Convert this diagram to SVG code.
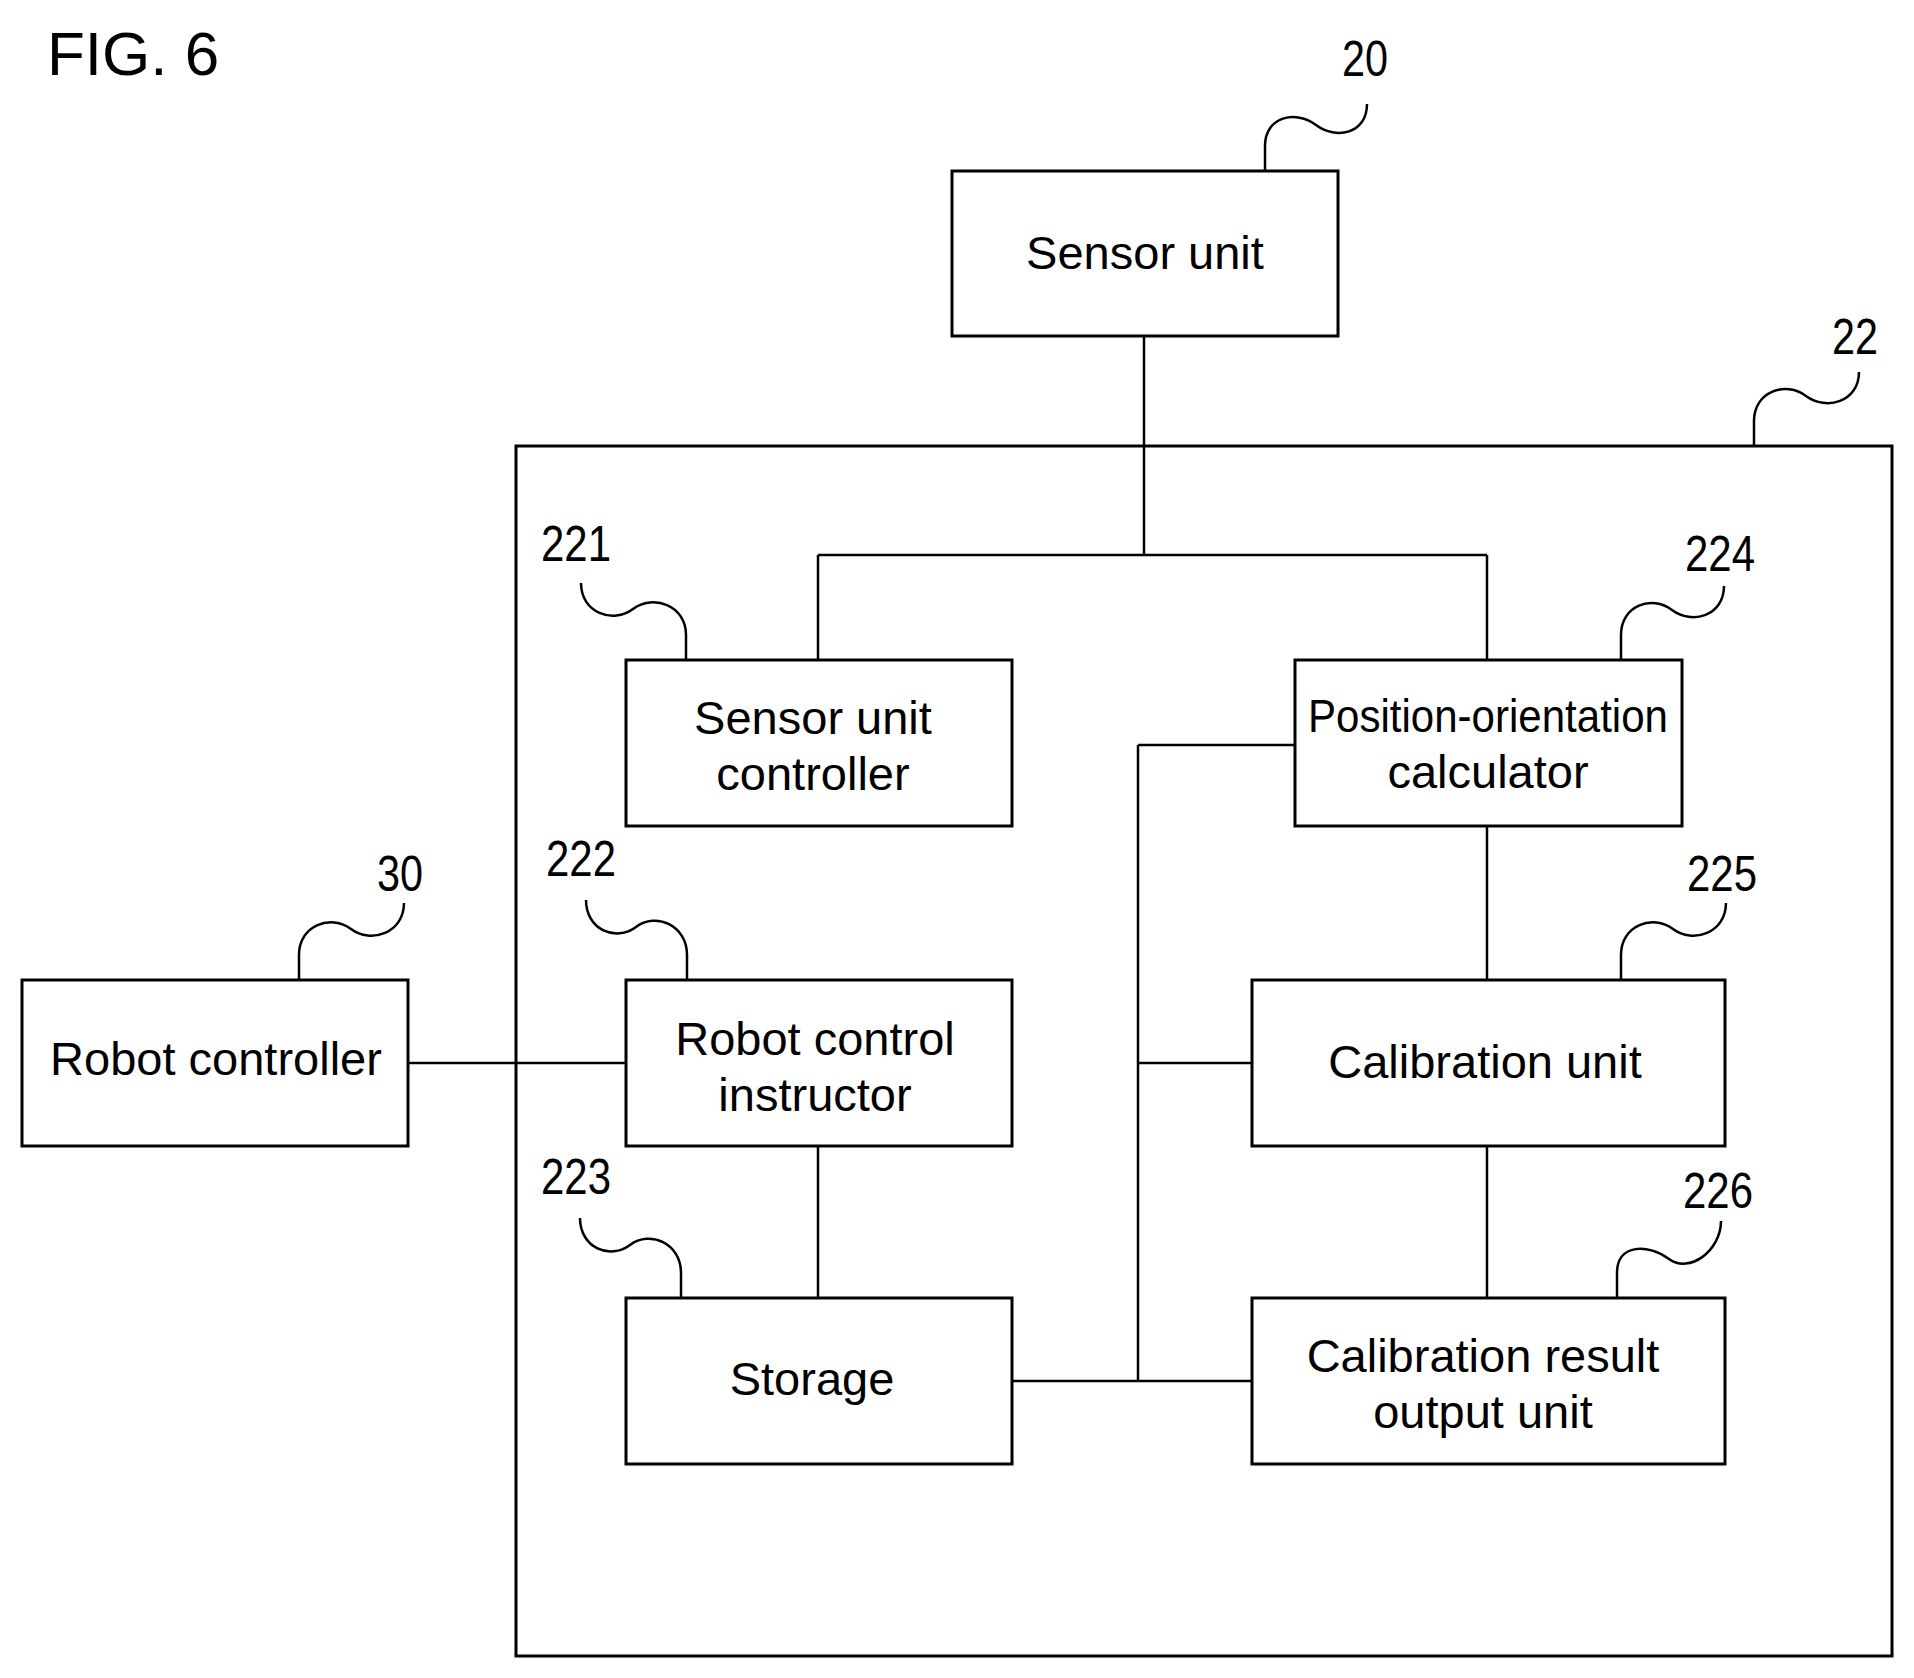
<svg xmlns="http://www.w3.org/2000/svg" width="1914" height="1678" viewBox="0 0 1914 1678">
<style>
.b{fill:#fff;stroke:#000;stroke-width:3}
.t{font-family:"Liberation Sans",Arial,sans-serif;font-size:47px;text-anchor:middle;fill:#000}
.n{font-family:"Liberation Sans",Arial,sans-serif;font-size:50px;text-anchor:middle;fill:#000}
.l{fill:none;stroke:#000;stroke-width:2.5}
</style>
<rect width="1914" height="1678" fill="#fff"/>
<text x="47" y="75" style="font-family:'Liberation Sans',Arial,sans-serif;font-size:62px">FIG. 6</text>
<g id="box22"><rect class="b" x="516" y="446" width="1376" height="1210"/></g>
<g id="connectors" class="l">
<path d="M1144 336 V555 M818 555 H1487 M818 555 V660 M1487 555 V660"/>
<path d="M1138 745 V1381 M1138 745 H1295 M1138 1063 H1252 M1012 1381 H1252"/>
<path d="M408 1063 H626 M818 1146 V1298 M1487 826 V980 M1487 1146 V1298"/>
</g>
<g id="leaders" class="l">
<path d="M1265 171 V146 C1265 116 1296 110 1316 125 C1336 140 1367 134 1367 104"/>
<path d="M1754 446 V421 C1754 391 1786 381 1806 396 C1826 411 1859 402 1859 372"/>
<path d="M686 660 V635 C686 605 653 594 633 609 C613 624 581 613 581 583"/>
<path d="M1621 660 V635 C1621 605 1652 595 1672 610 C1692 625 1724 616 1724 586"/>
<path d="M687 980 V955 C687 925 656 912 636 927 C616 942 586 930 586 900"/>
<path d="M1621 980 V955 C1621 925 1653 914 1673 929 C1693 944 1726 933 1726 903"/>
<path d="M299 980 V955 C299 925 331 914 351 929 C371 944 404 933 404 903"/>
<path d="M681 1298 V1273 C681 1243 650 1230 630 1245 C610 1260 580 1248 580 1218"/>
<path d="M1617 1298 V1273 C1617 1243 1649 1244 1669 1259 C1689 1274 1721 1251 1721 1221"/>
</g>
<g id="labels">
<text class="n" x="1365" y="76" textLength="46" lengthAdjust="spacingAndGlyphs">20</text>
<text class="n" x="1855" y="354" textLength="46" lengthAdjust="spacingAndGlyphs">22</text>
<text class="n" x="576" y="561" textLength="70" lengthAdjust="spacingAndGlyphs">221</text>
<text class="n" x="1720" y="571" textLength="70" lengthAdjust="spacingAndGlyphs">224</text>
<text class="n" x="581" y="876" textLength="70" lengthAdjust="spacingAndGlyphs">222</text>
<text class="n" x="1722" y="891" textLength="70" lengthAdjust="spacingAndGlyphs">225</text>
<text class="n" x="400" y="891" textLength="46" lengthAdjust="spacingAndGlyphs">30</text>
<text class="n" x="576" y="1194" textLength="70" lengthAdjust="spacingAndGlyphs">223</text>
<text class="n" x="1718" y="1208" textLength="70" lengthAdjust="spacingAndGlyphs">226</text>
</g>
<g id="sensor_unit"><rect class="b" x="952" y="171" width="386" height="165"/><text class="t" x="1145" y="269">Sensor unit</text></g>
<g id="sensor_unit_controller"><rect class="b" x="626" y="660" width="386" height="166"/><text class="t" x="813" y="734">Sensor unit</text><text class="t" x="813" y="790">controller</text></g>
<g id="position_orientation_calculator"><rect class="b" x="1295" y="660" width="387" height="166"/><text class="t" x="1488" y="732" textLength="360" lengthAdjust="spacingAndGlyphs">Position-orientation</text><text class="t" x="1488" y="788">calculator</text></g>
<g id="robot_control_instructor"><rect class="b" x="626" y="980" width="386" height="166"/><text class="t" x="815" y="1055">Robot control</text><text class="t" x="815" y="1111">instructor</text></g>
<g id="storage"><rect class="b" x="626" y="1298" width="386" height="166"/><text class="t" x="812" y="1395">Storage</text></g>
<g id="calibration_unit"><rect class="b" x="1252" y="980" width="473" height="166"/><text class="t" x="1485" y="1078">Calibration unit</text></g>
<g id="calibration_result_output_unit"><rect class="b" x="1252" y="1298" width="473" height="166"/><text class="t" x="1483" y="1372">Calibration result</text><text class="t" x="1483" y="1428">output unit</text></g>
<g id="robot_controller"><rect class="b" x="22" y="980" width="386" height="166"/><text class="t" x="216" y="1075">Robot controller</text></g>
</svg>
